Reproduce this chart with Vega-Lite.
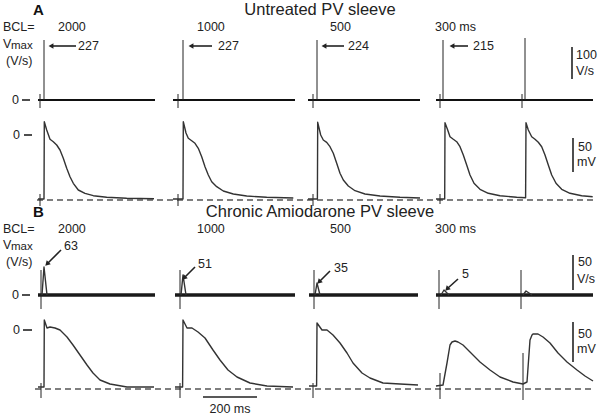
{
  "$schema": "https://vega.github.io/schema/vega-lite/v6.json",
  "width": 601,
  "height": 416,
  "autosize": {"type": "fit", "contains": "padding"},
  "padding": 0,
  "config": {"view": {"stroke": null}, "font": "Liberation Sans"},
  "encoding": {
    "x": {"field": "x", "type": "quantitative", "scale": {"domain": [0, 601], "nice": false, "zero": false}, "axis": null},
    "y": {"field": "y", "type": "quantitative", "scale": {"domain": [416, 0], "nice": false, "zero": false}, "axis": null}
  },
  "datasets": {
    "traces": [
      {"s": "A1", "x": 38, "y": 199}, {"s": "A1", "x": 44, "y": 199}, {"s": "A1", "x": 44.3, "y": 121.7}, {"s": "A1", "x": 46.7, "y": 130}, {"s": "A1", "x": 50, "y": 139.3}, {"s": "A1", "x": 53.3, "y": 141.7}, {"s": "A1", "x": 56.7, "y": 145}, {"s": "A1", "x": 60, "y": 150}, {"s": "A1", "x": 63.3, "y": 158.3}, {"s": "A1", "x": 66.7, "y": 168.3}, {"s": "A1", "x": 70, "y": 176.7}, {"s": "A1", "x": 73.3, "y": 183.3}, {"s": "A1", "x": 78.3, "y": 190}, {"s": "A1", "x": 85, "y": 193.3}, {"s": "A1", "x": 93.3, "y": 195.7}, {"s": "A1", "x": 106.7, "y": 197.3}, {"s": "A1", "x": 126.7, "y": 198.3}, {"s": "A1", "x": 154, "y": 198.7},
      {"s": "A2", "x": 173, "y": 199}, {"s": "A2", "x": 183, "y": 199}, {"s": "A2", "x": 183.3, "y": 121.7}, {"s": "A2", "x": 186, "y": 133}, {"s": "A2", "x": 188.3, "y": 138.3}, {"s": "A2", "x": 191.7, "y": 140.7}, {"s": "A2", "x": 195, "y": 143.3}, {"s": "A2", "x": 198.3, "y": 148.3}, {"s": "A2", "x": 201.7, "y": 156.7}, {"s": "A2", "x": 205, "y": 166.7}, {"s": "A2", "x": 208.3, "y": 175}, {"s": "A2", "x": 211.7, "y": 181.7}, {"s": "A2", "x": 216.7, "y": 186.7}, {"s": "A2", "x": 223.3, "y": 191}, {"s": "A2", "x": 233.3, "y": 194}, {"s": "A2", "x": 246.7, "y": 196}, {"s": "A2", "x": 266.7, "y": 197.3}, {"s": "A2", "x": 293.3, "y": 198},
      {"s": "A3", "x": 308, "y": 199}, {"s": "A3", "x": 317.4, "y": 199}, {"s": "A3", "x": 317.7, "y": 122.3}, {"s": "A3", "x": 320.7, "y": 135}, {"s": "A3", "x": 323.3, "y": 140}, {"s": "A3", "x": 326.7, "y": 142.3}, {"s": "A3", "x": 330, "y": 146.7}, {"s": "A3", "x": 333.3, "y": 153.3}, {"s": "A3", "x": 336.7, "y": 163.3}, {"s": "A3", "x": 340, "y": 173.3}, {"s": "A3", "x": 343.3, "y": 180}, {"s": "A3", "x": 348.3, "y": 186}, {"s": "A3", "x": 355, "y": 190.7}, {"s": "A3", "x": 365, "y": 194}, {"s": "A3", "x": 380, "y": 196}, {"s": "A3", "x": 400, "y": 197.3}, {"s": "A3", "x": 420, "y": 198},
      {"s": "A4", "x": 436, "y": 199}, {"s": "A4", "x": 444.7, "y": 199}, {"s": "A4", "x": 445, "y": 122.7}, {"s": "A4", "x": 447.7, "y": 130}, {"s": "A4", "x": 450, "y": 136.7}, {"s": "A4", "x": 453.3, "y": 139.3}, {"s": "A4", "x": 456.7, "y": 141.7}, {"s": "A4", "x": 460, "y": 146.7}, {"s": "A4", "x": 463.3, "y": 155}, {"s": "A4", "x": 466.7, "y": 165}, {"s": "A4", "x": 470, "y": 175}, {"s": "A4", "x": 474, "y": 183.3}, {"s": "A4", "x": 480, "y": 189.3}, {"s": "A4", "x": 488.3, "y": 193.3}, {"s": "A4", "x": 500, "y": 195.7}, {"s": "A4", "x": 516.7, "y": 197.3}, {"s": "A4", "x": 525.6, "y": 197.7}, {"s": "A4", "x": 526, "y": 122.7}, {"s": "A4", "x": 528.3, "y": 130}, {"s": "A4", "x": 531.7, "y": 136.7}, {"s": "A4", "x": 535, "y": 139.3}, {"s": "A4", "x": 538.3, "y": 142.3}, {"s": "A4", "x": 541.7, "y": 146.7}, {"s": "A4", "x": 545, "y": 155}, {"s": "A4", "x": 548.3, "y": 165}, {"s": "A4", "x": 551.7, "y": 175}, {"s": "A4", "x": 556, "y": 183.3}, {"s": "A4", "x": 561.7, "y": 189.3}, {"s": "A4", "x": 570, "y": 193.3}, {"s": "A4", "x": 581.7, "y": 195.7}, {"s": "A4", "x": 592.7, "y": 196.7},
      {"s": "B1", "x": 38, "y": 387}, {"s": "B1", "x": 44, "y": 387}, {"s": "B1", "x": 44.3, "y": 320}, {"s": "B1", "x": 47, "y": 328}, {"s": "B1", "x": 50, "y": 327}, {"s": "B1", "x": 55, "y": 328}, {"s": "B1", "x": 60, "y": 330}, {"s": "B1", "x": 67, "y": 337}, {"s": "B1", "x": 73, "y": 345}, {"s": "B1", "x": 80, "y": 355}, {"s": "B1", "x": 87, "y": 365}, {"s": "B1", "x": 93, "y": 373}, {"s": "B1", "x": 100, "y": 380}, {"s": "B1", "x": 110, "y": 384}, {"s": "B1", "x": 127, "y": 387}, {"s": "B1", "x": 154, "y": 387},
      {"s": "B2", "x": 175, "y": 387}, {"s": "B2", "x": 182.6, "y": 387}, {"s": "B2", "x": 183, "y": 320}, {"s": "B2", "x": 187, "y": 328}, {"s": "B2", "x": 192, "y": 328}, {"s": "B2", "x": 198, "y": 332}, {"s": "B2", "x": 205, "y": 338}, {"s": "B2", "x": 213, "y": 350}, {"s": "B2", "x": 220, "y": 360}, {"s": "B2", "x": 228, "y": 370}, {"s": "B2", "x": 237, "y": 377}, {"s": "B2", "x": 250, "y": 383}, {"s": "B2", "x": 267, "y": 386}, {"s": "B2", "x": 293, "y": 387},
      {"s": "B3", "x": 309, "y": 386}, {"s": "B3", "x": 316.6, "y": 386}, {"s": "B3", "x": 317, "y": 323}, {"s": "B3", "x": 322, "y": 330}, {"s": "B3", "x": 327, "y": 330}, {"s": "B3", "x": 333, "y": 335}, {"s": "B3", "x": 340, "y": 343}, {"s": "B3", "x": 347, "y": 353}, {"s": "B3", "x": 353, "y": 363}, {"s": "B3", "x": 362, "y": 373}, {"s": "B3", "x": 370, "y": 378}, {"s": "B3", "x": 383, "y": 383}, {"s": "B3", "x": 400, "y": 384}, {"s": "B3", "x": 418, "y": 385},
      {"s": "B4", "x": 436, "y": 386}, {"s": "B4", "x": 443, "y": 385}, {"s": "B4", "x": 447, "y": 363}, {"s": "B4", "x": 450, "y": 345}, {"s": "B4", "x": 452, "y": 342}, {"s": "B4", "x": 455, "y": 341}, {"s": "B4", "x": 458, "y": 342}, {"s": "B4", "x": 463, "y": 345}, {"s": "B4", "x": 470, "y": 352}, {"s": "B4", "x": 480, "y": 362}, {"s": "B4", "x": 490, "y": 370}, {"s": "B4", "x": 500, "y": 377}, {"s": "B4", "x": 513, "y": 382}, {"s": "B4", "x": 523, "y": 384}, {"s": "B4", "x": 527, "y": 382}, {"s": "B4", "x": 530, "y": 340}, {"s": "B4", "x": 532, "y": 335}, {"s": "B4", "x": 533, "y": 334}, {"s": "B4", "x": 538, "y": 334}, {"s": "B4", "x": 543, "y": 337}, {"s": "B4", "x": 550, "y": 343}, {"s": "B4", "x": 558, "y": 353}, {"s": "B4", "x": 567, "y": 362}, {"s": "B4", "x": 577, "y": 370}, {"s": "B4", "x": 585, "y": 376}, {"s": "B4", "x": 593, "y": 381},
      {"s": "P1", "x": 42, "y": 295}, {"s": "P1", "x": 44, "y": 267}, {"s": "P1", "x": 47, "y": 295},
      {"s": "P2", "x": 181, "y": 295}, {"s": "P2", "x": 183, "y": 275}, {"s": "P2", "x": 186, "y": 295},
      {"s": "P3", "x": 315, "y": 295}, {"s": "P3", "x": 317, "y": 283}, {"s": "P3", "x": 320, "y": 295},
      {"s": "P4", "x": 441, "y": 295}, {"s": "P4", "x": 444, "y": 290}, {"s": "P4", "x": 449, "y": 295},
      {"s": "P5", "x": 523, "y": 295}, {"s": "P5", "x": 526, "y": 291}, {"s": "P5", "x": 532, "y": 295}
    ],
    "rules": [
      {"k": "dash", "x": 37, "x2": 595, "y": 200, "y2": 200},
      {"k": "dash", "x": 35, "x2": 595, "y": 389, "y2": 389},
      {"k": "noiseA", "x": 38, "x2": 155, "y": 100, "y2": 100},
      {"k": "noiseA", "x": 173, "x2": 295, "y": 100, "y2": 100},
      {"k": "noiseA", "x": 308, "x2": 420, "y": 100, "y2": 100},
      {"k": "noiseA", "x": 436, "x2": 593, "y": 100, "y2": 100},
      {"k": "noiseB", "x": 38, "x2": 155, "y": 295, "y2": 295},
      {"k": "noiseB", "x": 175, "x2": 295, "y": 295, "y2": 295},
      {"k": "noiseB", "x": 309, "x2": 418, "y": 295, "y2": 295},
      {"k": "noiseB", "x": 436, "x2": 593, "y": 295, "y2": 295},
      {"k": "thin", "x": 44, "x2": 44, "y": 40, "y2": 100},
      {"k": "thin", "x": 183, "x2": 183, "y": 40, "y2": 100},
      {"k": "thin", "x": 317, "x2": 317, "y": 40, "y2": 100},
      {"k": "thin", "x": 443, "x2": 443, "y": 40, "y2": 100},
      {"k": "thin", "x": 525, "x2": 525, "y": 38, "y2": 100},
      {"k": "thin", "x": 40, "x2": 40, "y": 94, "y2": 108},
      {"k": "thin", "x": 178, "x2": 178, "y": 94, "y2": 108},
      {"k": "thin", "x": 313, "x2": 313, "y": 94, "y2": 108},
      {"k": "thin", "x": 440, "x2": 440, "y": 94, "y2": 108},
      {"k": "thin", "x": 522, "x2": 522, "y": 94, "y2": 108},
      {"k": "thin", "x": 40, "x2": 40, "y": 194, "y2": 206},
      {"k": "thin", "x": 178, "x2": 178, "y": 194, "y2": 206},
      {"k": "thin", "x": 313, "x2": 313, "y": 194, "y2": 206},
      {"k": "thin", "x": 440, "x2": 440, "y": 194, "y2": 204},
      {"k": "thin", "x": 41, "x2": 41, "y": 270, "y2": 309},
      {"k": "thin", "x": 180, "x2": 180, "y": 270, "y2": 309},
      {"k": "thin", "x": 314, "x2": 314, "y": 270, "y2": 309},
      {"k": "thin", "x": 439, "x2": 439, "y": 270, "y2": 309},
      {"k": "thin", "x": 521, "x2": 521, "y": 270, "y2": 309},
      {"k": "thin", "x": 41, "x2": 41, "y": 383, "y2": 398},
      {"k": "thin", "x": 180, "x2": 180, "y": 383, "y2": 398},
      {"k": "thin", "x": 313, "x2": 313, "y": 383, "y2": 398},
      {"k": "thin", "x": 440, "x2": 440, "y": 373, "y2": 399},
      {"k": "thin", "x": 523, "x2": 523, "y": 353, "y2": 400},
      {"k": "bar", "x": 572, "x2": 572, "y": 47, "y2": 79},
      {"k": "bar", "x": 573, "x2": 573, "y": 138, "y2": 172},
      {"k": "bar", "x": 573, "x2": 573, "y": 255, "y2": 290},
      {"k": "bar", "x": 573, "x2": 573, "y": 322, "y2": 362},
      {"k": "bar", "x": 203, "x2": 257, "y": 397, "y2": 397},
      {"k": "bar", "x": 22, "x2": 30, "y": 100, "y2": 100},
      {"k": "bar", "x": 24, "x2": 32, "y": 135, "y2": 135},
      {"k": "bar", "x": 22, "x2": 30, "y": 295, "y2": 295},
      {"k": "bar", "x": 23, "x2": 32, "y": 330, "y2": 330},
      {"k": "arrow", "x": 52, "x2": 76, "y": 46, "y2": 46},
      {"k": "arrow", "x": 192, "x2": 212, "y": 46, "y2": 46},
      {"k": "arrow", "x": 325, "x2": 344, "y": 46, "y2": 46},
      {"k": "arrow", "x": 453, "x2": 468, "y": 46, "y2": 46},
      {"k": "arrow", "x": 61, "x2": 48, "y": 250, "y2": 263},
      {"k": "arrow", "x": 195, "x2": 185, "y": 267, "y2": 277},
      {"k": "arrow", "x": 330, "x2": 320, "y": 271, "y2": 281},
      {"k": "arrow", "x": 458, "x2": 448, "y": 279, "y2": 288}
    ],
    "heads": [
      {"k": "left", "x": 51, "y": 46},
      {"k": "left", "x": 191, "y": 46},
      {"k": "left", "x": 324, "y": 46},
      {"k": "left", "x": 452, "y": 46},
      {"k": "dl", "x": 47, "y": 264},
      {"k": "dl", "x": 184, "y": 278},
      {"k": "dl", "x": 319, "y": 282},
      {"k": "dl", "x": 447, "y": 289}
    ],
    "texts": [
      {"k": "letter", "t": "A", "x": 33, "y": 10},
      {"k": "letter", "t": "B", "x": 33, "y": 212},
      {"k": "title", "t": "Untreated PV sleeve", "x": 320, "y": 10},
      {"k": "title", "t": "Chronic Amiodarone PV sleeve", "x": 320, "y": 212},
      {"k": "lab", "t": "BCL=", "x": 3, "y": 27},
      {"k": "lab", "t": "2000", "x": 58, "y": 27},
      {"k": "lab", "t": "1000", "x": 197, "y": 27},
      {"k": "lab", "t": "500", "x": 330, "y": 27},
      {"k": "lab", "t": "300 ms", "x": 435, "y": 27},
      {"k": "lab", "t": "V", "x": 3, "y": 44},
      {"k": "sub", "t": "max", "x": 11, "y": 46},
      {"k": "lab", "t": "(V/s)", "x": 6, "y": 61},
      {"k": "lab", "t": "227", "x": 78, "y": 46},
      {"k": "lab", "t": "227", "x": 218, "y": 46},
      {"k": "lab", "t": "224", "x": 348, "y": 46},
      {"k": "lab", "t": "215", "x": 473, "y": 46},
      {"k": "lab", "t": "0", "x": 12, "y": 100},
      {"k": "lab", "t": "100", "x": 576, "y": 55},
      {"k": "lab", "t": "V/s", "x": 576, "y": 71},
      {"k": "lab", "t": "0", "x": 13, "y": 135},
      {"k": "lab", "t": "50", "x": 578, "y": 147},
      {"k": "lab", "t": "mV", "x": 577, "y": 162},
      {"k": "lab", "t": "BCL=", "x": 3, "y": 229},
      {"k": "lab", "t": "2000", "x": 58, "y": 229},
      {"k": "lab", "t": "1000", "x": 197, "y": 229},
      {"k": "lab", "t": "500", "x": 330, "y": 229},
      {"k": "lab", "t": "300 ms", "x": 435, "y": 229},
      {"k": "lab", "t": "V", "x": 3, "y": 245},
      {"k": "sub", "t": "max", "x": 11, "y": 247},
      {"k": "lab", "t": "(V/s)", "x": 6, "y": 262},
      {"k": "lab", "t": "63", "x": 64, "y": 246},
      {"k": "lab", "t": "51", "x": 198, "y": 264},
      {"k": "lab", "t": "35", "x": 334, "y": 268},
      {"k": "lab", "t": "5", "x": 462, "y": 274},
      {"k": "lab", "t": "0", "x": 12, "y": 295},
      {"k": "lab", "t": "50", "x": 578, "y": 262},
      {"k": "lab", "t": "V/s", "x": 577, "y": 279},
      {"k": "lab", "t": "0", "x": 13, "y": 330},
      {"k": "lab", "t": "50", "x": 578, "y": 334},
      {"k": "lab", "t": "mV", "x": 577, "y": 349},
      {"k": "clab", "t": "200 ms", "x": 230, "y": 409}
    ]
  },
  "layer": [
    {
      "data": {"name": "rules"},
      "transform": [{"filter": "datum.k === 'dash'"}],
      "mark": {"type": "rule", "stroke": "#555555", "strokeWidth": 1.3, "strokeDash": [6, 4]},
      "encoding": {"x2": {"field": "x2"}, "y2": {"field": "y2"}}
    },
    {
      "data": {"name": "rules"},
      "transform": [{"filter": "datum.k === 'noiseA'"}],
      "mark": {"type": "rule", "stroke": "#111111", "strokeWidth": 2.2},
      "encoding": {"x2": {"field": "x2"}, "y2": {"field": "y2"}}
    },
    {
      "data": {"name": "rules"},
      "transform": [{"filter": "datum.k === 'noiseB'"}],
      "mark": {"type": "rule", "stroke": "#1a1a1a", "strokeWidth": 3.6},
      "encoding": {"x2": {"field": "x2"}, "y2": {"field": "y2"}}
    },
    {
      "data": {"name": "rules"},
      "transform": [{"filter": "datum.k === 'thin'"}],
      "mark": {"type": "rule", "stroke": "#222222", "strokeWidth": 1},
      "encoding": {"x2": {"field": "x2"}, "y2": {"field": "y2"}}
    },
    {
      "data": {"name": "rules"},
      "transform": [{"filter": "datum.k === 'bar' || datum.k === 'arrow'"}],
      "mark": {"type": "rule", "stroke": "#222222", "strokeWidth": 1.6},
      "encoding": {"x2": {"field": "x2"}, "y2": {"field": "y2"}}
    },
    {
      "data": {"name": "traces"},
      "mark": {"type": "line", "stroke": "#333333", "strokeWidth": 1.4, "strokeJoin": "round"},
      "encoding": {"detail": {"field": "s"}}
    },
    {
      "data": {"name": "heads"},
      "transform": [{"filter": "datum.k === 'left'"}],
      "mark": {"type": "point", "shape": "triangle-left", "filled": true, "color": "#222222", "size": 32, "opacity": 1},
      "encoding": {}
    },
    {
      "data": {"name": "heads"},
      "transform": [{"filter": "datum.k === 'dl'"}],
      "mark": {"type": "point", "shape": "triangle-up", "angle": 225, "filled": true, "color": "#222222", "size": 32, "opacity": 1},
      "encoding": {}
    },
    {
      "data": {"name": "texts"},
      "transform": [{"filter": "datum.k === 'lab'"}],
      "mark": {"type": "text", "align": "left", "baseline": "middle", "fontSize": 12.5, "color": "#222222"},
      "encoding": {"text": {"field": "t"}}
    },
    {
      "data": {"name": "texts"},
      "transform": [{"filter": "datum.k === 'sub'"}],
      "mark": {"type": "text", "align": "left", "baseline": "middle", "fontSize": 11.5, "color": "#222222"},
      "encoding": {"text": {"field": "t"}}
    },
    {
      "data": {"name": "texts"},
      "transform": [{"filter": "datum.k === 'clab'"}],
      "mark": {"type": "text", "align": "center", "baseline": "middle", "fontSize": 12.5, "color": "#222222"},
      "encoding": {"text": {"field": "t"}}
    },
    {
      "data": {"name": "texts"},
      "transform": [{"filter": "datum.k === 'title'"}],
      "mark": {"type": "text", "align": "center", "baseline": "middle", "fontSize": 16.5, "color": "#222222"},
      "encoding": {"text": {"field": "t"}}
    },
    {
      "data": {"name": "texts"},
      "transform": [{"filter": "datum.k === 'letter'"}],
      "mark": {"type": "text", "align": "left", "baseline": "middle", "fontSize": 15, "fontWeight": "bold", "color": "#111111"},
      "encoding": {"text": {"field": "t"}}
    }
  ]
}
